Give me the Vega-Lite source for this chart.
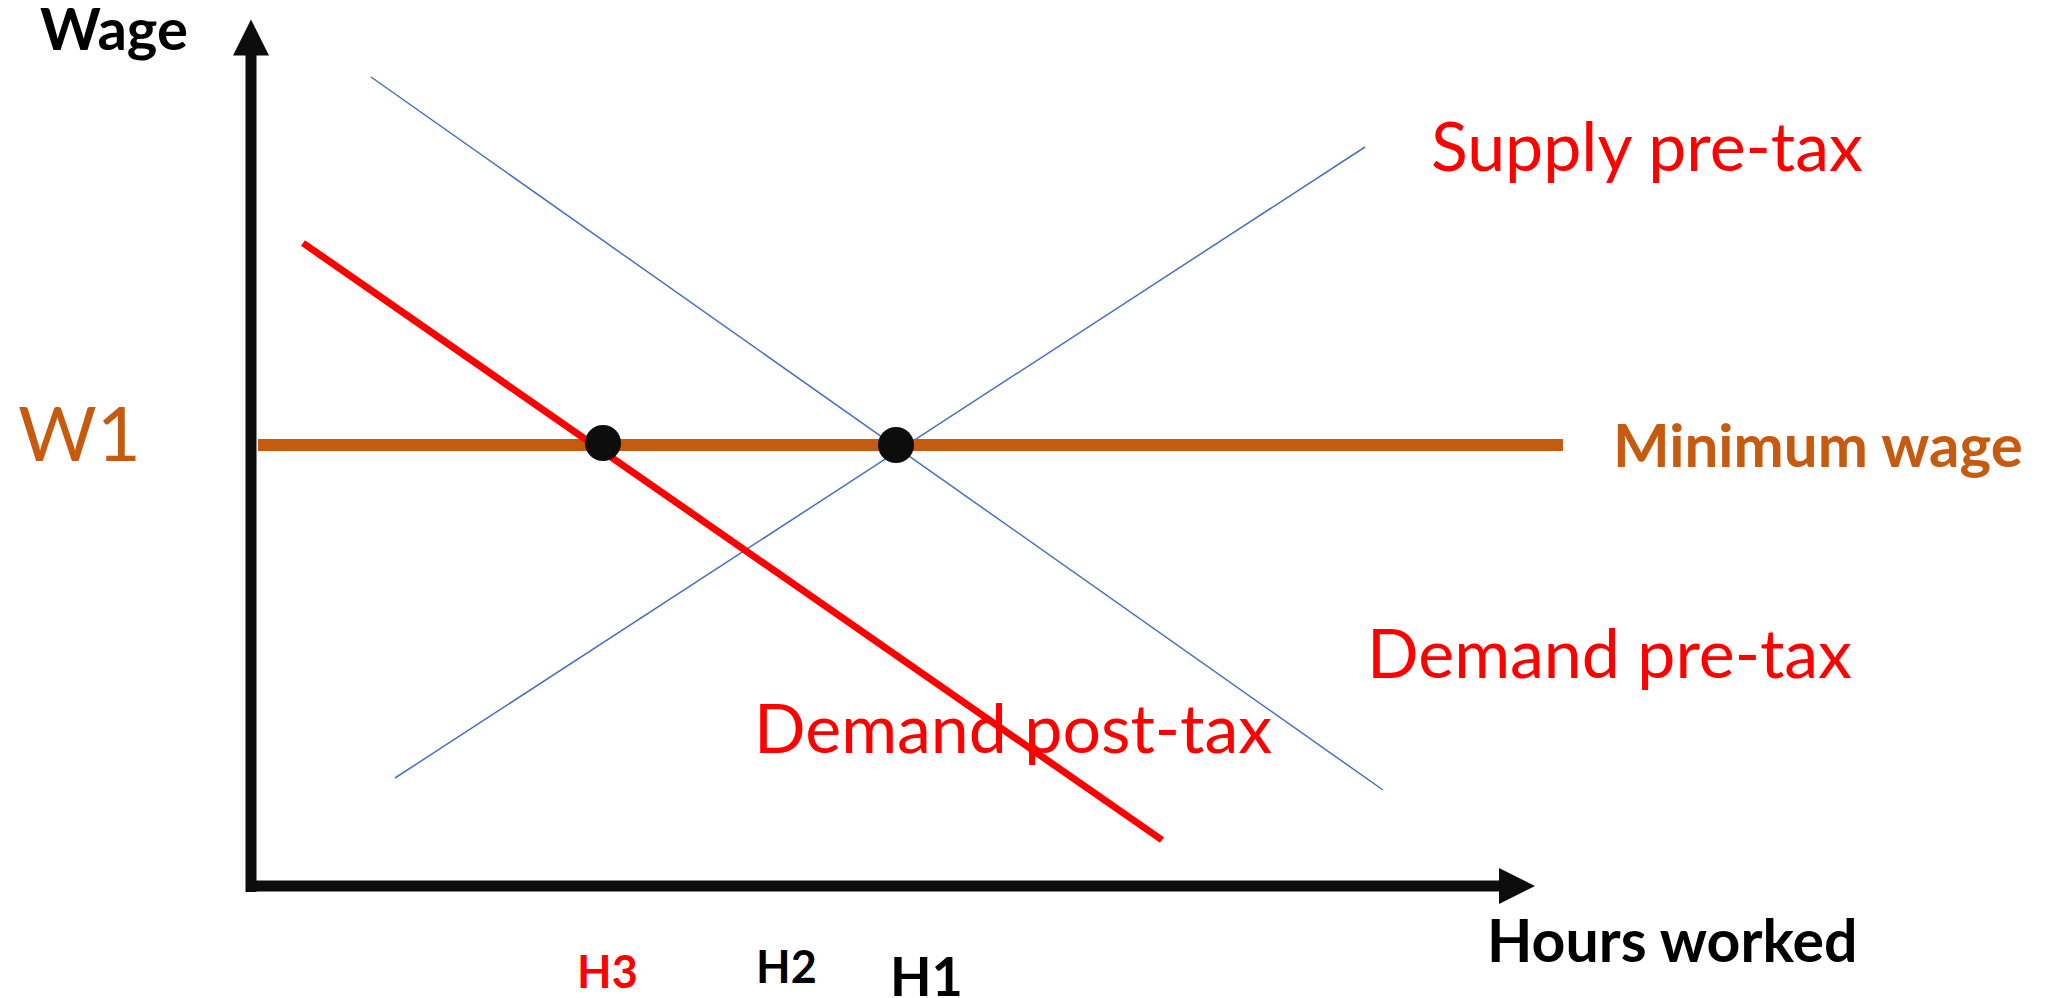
{
  "$schema": "https://vega.github.io/schema/vega-lite/v6.json",
  "width": 2057,
  "height": 998,
  "autosize": {"type": "none"},
  "padding": 0,
  "background": "white",
  "config": {"view": {"stroke": null}, "axis": null},
  "datasets": {
    "curves": [
      {"series": "Demand pre-tax", "hours": 12.0, "wage": 80.9},
      {"series": "Demand pre-tax", "hours": 113.2, "wage": 9.6},
      {"series": "Supply pre-tax", "hours": 14.4, "wage": 10.8},
      {"series": "Supply pre-tax", "hours": 111.4, "wage": 73.9},
      {"series": "Demand post-tax", "hours": 5.2, "wage": 64.3},
      {"series": "Demand post-tax", "hours": 91.1, "wage": 4.6},
      {"series": "Minimum wage", "hours": 0.7, "wage": 44.1},
      {"series": "Minimum wage", "hours": 131.2, "wage": 44.1}
    ],
    "axes": [
      {"axis": "y", "hours": 0, "hours2": 0, "wage": -0.6, "wage2": 83.3},
      {"axis": "x", "hours": -0.5, "hours2": 125.0, "wage": 0, "wage2": 0}
    ],
    "heads": [
      {"axis": "y", "hours": 0, "wage": 84.85},
      {"axis": "x", "hours": 126.6, "wage": 0}
    ],
    "equilibria": [
      {"point": "post-tax", "hours": 35.2, "wage": 44.3},
      {"point": "pre-tax", "hours": 64.5, "wage": 44.1}
    ],
    "labels": [
      {"label": "Wage", "hours": -21.1, "wage": 83.6},
      {"label": "W1", "hours": -23.3, "wage": 42.5},
      {"label": "Supply pre-tax", "hours": 118.0, "wage": 71.5},
      {"label": "Minimum wage", "hours": 136.2, "wage": 41.9},
      {"label": "Demand pre-tax", "hours": 111.6, "wage": 20.8},
      {"label": "Demand post-tax", "hours": 50.3, "wage": 13.3},
      {"label": "Hours worked", "hours": 123.6, "wage": -7.6},
      {"label": "H3", "hours": 32.6, "wage": -10.2},
      {"label": "H2", "hours": 50.5, "wage": -9.7},
      {"label": "H1", "hours": 63.9, "wage": -11.0}
    ]
  },
  "encoding": {
    "x": {"field": "hours", "type": "quantitative", "scale": {"domain": [-25.1, 180.6], "nice": false, "zero": false}, "axis": null},
    "y": {"field": "wage", "type": "quantitative", "scale": {"domain": [-11.2, 88.6], "nice": false, "zero": false}, "axis": null}
  },
  "layer": [
    {
      "data": {"name": "curves"},
      "transform": [{"filter": "datum.series === 'Demand pre-tax' || datum.series === 'Supply pre-tax'"}],
      "mark": {"type": "line", "color": "#4472C4", "strokeWidth": 1.5},
      "encoding": {"detail": {"field": "series"}}
    },
    {
      "data": {"name": "curves"},
      "transform": [{"filter": "datum.series === 'Minimum wage'"}],
      "mark": {"type": "line", "color": "#C55A11", "strokeWidth": 12, "strokeCap": "butt"},
      "encoding": {"detail": {"field": "series"}}
    },
    {
      "data": {"name": "curves"},
      "transform": [{"filter": "datum.series === 'Demand post-tax'"}],
      "mark": {"type": "line", "color": "#FF0000", "strokeWidth": 7, "strokeCap": "butt"},
      "encoding": {"detail": {"field": "series"}}
    },
    {
      "data": {"name": "axes"},
      "mark": {"type": "rule", "color": "#0D0D0D", "strokeWidth": 11, "strokeCap": "butt"},
      "encoding": {
        "x2": {"field": "hours2"},
        "y2": {"field": "wage2"}
      }
    },
    {
      "data": {"name": "heads"},
      "transform": [{"filter": "datum.axis === 'y'"}],
      "mark": {"type": "point", "shape": "M0,-1L1,1L-1,1Z", "filled": true, "color": "#0D0D0D", "opacity": 1, "size": 1296}
    },
    {
      "data": {"name": "heads"},
      "transform": [{"filter": "datum.axis === 'x'"}],
      "mark": {"type": "point", "shape": "M1,0L-1,-1L-1,1Z", "filled": true, "color": "#0D0D0D", "opacity": 1, "size": 1296}
    },
    {
      "data": {"name": "equilibria"},
      "mark": {"type": "point", "shape": "circle", "filled": true, "color": "#0D0D0D", "opacity": 1, "size": 1300}
    },
    {
      "data": {"name": "labels"},
      "transform": [{"filter": "datum.label === 'Wage'"}],
      "mark": {"type": "text", "align": "left", "baseline": "alphabetic", "font": "Lato", "fontWeight": "bold", "fontSize": 58, "color": "#000000"},
      "encoding": {"text": {"field": "label"}}
    },
    {
      "data": {"name": "labels"},
      "transform": [{"filter": "datum.label === 'W1'"}],
      "mark": {"type": "text", "align": "left", "baseline": "alphabetic", "font": "Lato", "fontSize": 76, "color": "#C55A11"},
      "encoding": {"text": {"field": "label"}}
    },
    {
      "data": {"name": "labels"},
      "transform": [{"filter": "datum.label === 'Minimum wage'"}],
      "mark": {"type": "text", "align": "left", "baseline": "alphabetic", "font": "Lato", "fontWeight": "bold", "fontSize": 60, "color": "#C55A11"},
      "encoding": {"text": {"field": "label"}}
    },
    {
      "data": {"name": "labels"},
      "transform": [{"filter": "datum.label === 'Supply pre-tax' || datum.label === 'Demand pre-tax' || datum.label === 'Demand post-tax'"}],
      "mark": {"type": "text", "align": "left", "baseline": "alphabetic", "font": "Lato", "fontSize": 68, "color": "#FF0000"},
      "encoding": {"text": {"field": "label"}}
    },
    {
      "data": {"name": "labels"},
      "transform": [{"filter": "datum.label === 'Hours worked'"}],
      "mark": {"type": "text", "align": "left", "baseline": "alphabetic", "font": "Lato", "fontWeight": "bold", "fontSize": 59, "color": "#000000"},
      "encoding": {"text": {"field": "label"}}
    },
    {
      "data": {"name": "labels"},
      "transform": [{"filter": "datum.label === 'H3'"}],
      "mark": {"type": "text", "align": "left", "baseline": "alphabetic", "font": "Lato", "fontWeight": "bold", "fontSize": 45, "color": "#FF0000"},
      "encoding": {"text": {"field": "label"}}
    },
    {
      "data": {"name": "labels"},
      "transform": [{"filter": "datum.label === 'H2'"}],
      "mark": {"type": "text", "align": "left", "baseline": "alphabetic", "font": "Lato", "fontWeight": "bold", "fontSize": 45, "color": "#000000"},
      "encoding": {"text": {"field": "label"}}
    },
    {
      "data": {"name": "labels"},
      "transform": [{"filter": "datum.label === 'H1'"}],
      "mark": {"type": "text", "align": "left", "baseline": "alphabetic", "font": "Lato", "fontWeight": "bold", "fontSize": 54, "color": "#000000"},
      "encoding": {"text": {"field": "label"}}
    }
  ]
}
